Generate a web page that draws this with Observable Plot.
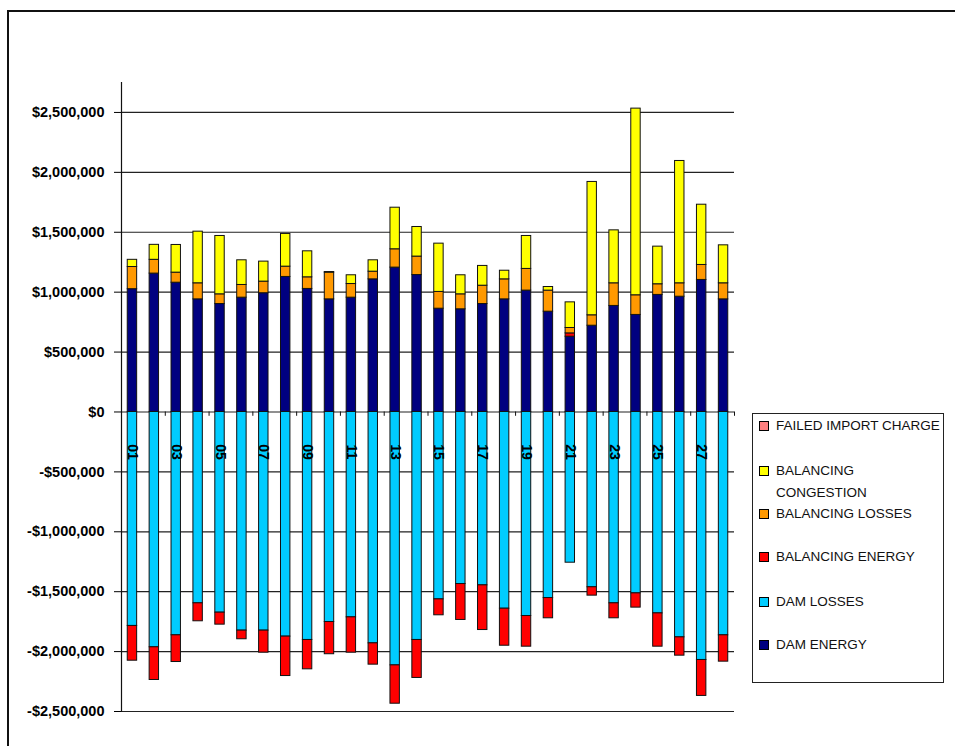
<!DOCTYPE html>
<html>
<head>
<meta charset="utf-8">
<script src="https://cdn.jsdelivr.net/npm/d3@7"></script>
<script src="https://cdn.jsdelivr.net/npm/@observablehq/plot@0.6"></script>
<style>
  body { margin: 0; background: #fff; }
  #wrap { position: relative; width: 955px; height: 746px; overflow: hidden; background: #fff; }
  #chart { position: absolute; left: 0; top: 0; }
  #frame { position: absolute; left: 7px; top: 10px; width: 1000px; height: 800px;
           border-left: 2px solid #111; border-top: 2px solid #111; pointer-events: none; }
  #legend { position: absolute; left: 752px; top: 413px; width: 190px; height: 268px;
            border: 1px solid #222; background: #fff;
            font-family: "Liberation Sans", Arial, sans-serif; font-size: 13.5px; color: #111; }
  .sw { position: absolute; left: 6px; width: 8px; height: 8px; border: 1px solid #000; }
  .lab { position: absolute; left: 23px; line-height: 22px; white-space: nowrap; }
</style>
</head>
<body>
<div id="wrap">
  <div id="chart"></div>
  <div id="legend"></div>
  <div id="frame"></div>
</div>
<script>
// ---- data (values in dollars) ----
const days = ["01","02","03","04","05","06","07","08","09","10","11","12","13","14",
              "15","16","17","18","19","20","21","22","23","24","25","26","27","28"];
const failedImportCharge = [0,0,0,0,0,0,0,0,0,0,0,0,0,0,0,0,0,0,0,0,0,0,0,0,0,0,0,0];
const balancingCongestion = [60000,125000,231000,431000,487000,206000,167000,273000,217000,5000,73000,95000,347000,247000,
                             403000,159000,165000,72000,275000,30000,214000,1113000,442000,1558000,314000,1021000,503000,317000];
const balancingLosses = [185000,115000,84000,134000,81000,106000,97000,86000,97000,223000,114000,64000,153000,154000,
                         140000,125000,153000,167000,181000,176000,45000,87000,189000,164000,89000,112000,125000,134000];
const balancingEnergy = [-290000,-273000,-223000,-150000,-100000,-72000,-184000,-329000,-245000,-269000,-295000,-178000,-320000,-317000,
                         -133000,-300000,-373000,-309000,-256000,-169000,28000,-70000,-125000,-119000,-278000,-153000,-300000,-220000];
const damLosses = [-1786000,-1964000,-1864000,-1597000,-1675000,-1825000,-1825000,-1875000,-1903000,-1753000,-1714000,-1931000,-2115000,-1903000,
                   -1564000,-1436000,-1447000,-1642000,-1703000,-1553000,-1258000,-1463000,-1597000,-1514000,-1681000,-1881000,-2070000,-1864000];
const damEnergy = [1025000,1155000,1079000,940000,901000,954000,991000,1127000,1027000,940000,954000,1107000,1205000,1143000,
                   862000,857000,901000,940000,1013000,837000,628000,720000,885000,810000,977000,962000,1102000,940000];

const seriesNames = ["FAILED IMPORT CHARGE","BALANCING CONGESTION","BALANCING LOSSES","BALANCING ENERGY","DAM LOSSES","DAM ENERGY"];
const legendLines = [["FAILED IMPORT CHARGE"],["BALANCING","CONGESTION"],["BALANCING LOSSES"],["BALANCING ENERGY"],["DAM LOSSES"],["DAM ENERGY"]];
const seriesColors = ["#FF8080","#FFFF00","#FF9900","#FF0000","#00CCFF","#000080"];
const stackOrder = ["DAM ENERGY","DAM LOSSES","BALANCING ENERGY","BALANCING LOSSES","BALANCING CONGESTION","FAILED IMPORT CHARGE"];
const yTicks = [-2500000,-2000000,-1500000,-1000000,-500000,0,500000,1000000,1500000,2000000,2500000];
const labelDays = ["01","03","05","07","09","11","13","15","17","19","21","23","25","27"];
const tickDays = ["02","04","06","08","10","12","14","16","18","20","22","24","26","28"];

// ---- build table ----
const seriesValues = {
  "FAILED IMPORT CHARGE": failedImportCharge,
  "BALANCING CONGESTION": balancingCongestion,
  "BALANCING LOSSES": balancingLosses,
  "BALANCING ENERGY": balancingEnergy,
  "DAM LOSSES": damLosses,
  "DAM ENERGY": damEnergy
};
const rows = [];
days.forEach((d, i) => {
  for (const s of stackOrder) {
    const v = seriesValues[s][i];
    if (v !== 0) rows.push({day: d, series: s, value: v});
  }
});

const fmt = d => (d < 0 ? "-" : "") + "$" + d3.format(",")(Math.abs(d));
const W = 955, H = 746, ML = 121, MR = 221, MT = 82, MB = 35;
const step = (W - ML - MR) / days.length;

const chart = Plot.plot({
  width: W, height: H,
  marginLeft: ML, marginRight: MR, marginTop: MT, marginBottom: MB,
  style: {
    background: "transparent",
    fontFamily: '"Liberation Sans Narrow","Arial Narrow","Liberation Sans",Arial,sans-serif',
    fontSize: "14.5px", fontWeight: "bold", color: "#000"
  },
  x: {domain: days, paddingInner: 0.57, paddingOuter: 0.285, round: false, axis: null},
  y: {domain: [-2500000, 2750000], ticks: yTicks, tickFormat: fmt, tickSize: 7, tickPadding: 10, label: null},
  color: {domain: seriesNames, range: seriesColors},
  marks: [
    Plot.ruleY(yTicks, {stroke: "#222", strokeWidth: 1.2}),
    Plot.barY(rows, Plot.stackY({
      x: "day", y: "value", z: "series", fill: "series", order: stackOrder,
      stroke: "#111", strokeWidth: 1
    })),
    Plot.frame({anchor: "left", stroke: "#111", strokeWidth: 1.2}),
    Plot.ruleX(tickDays, {x: d => d, y1: 0, y2: -36000, dx: step / 2, stroke: "#111"}),
    Plot.text(labelDays, {x: d => d, y: 0, dy: 40, rotate: 90, text: d => d,
                          fontSize: 14, fontWeight: "bold", fill: "#000"})
  ]
});
document.getElementById("chart").appendChild(chart);

// ---- legend ----
const legend = document.getElementById("legend");
const centers = [12, 57, 100, 143, 188, 231];
seriesNames.forEach((s, i) => {
  const sw = document.createElement("div");
  sw.className = "sw";
  sw.style.top = (centers[i] - 5) + "px";
  sw.style.background = seriesColors[i];
  legend.appendChild(sw);
  legendLines[i].forEach((t, j) => {
    const lab = document.createElement("div");
    lab.className = "lab";
    lab.style.top = (centers[i] - 11 + j * 22) + "px";
    lab.textContent = t;
    legend.appendChild(lab);
  });
});
</script>
</body>
</html>
